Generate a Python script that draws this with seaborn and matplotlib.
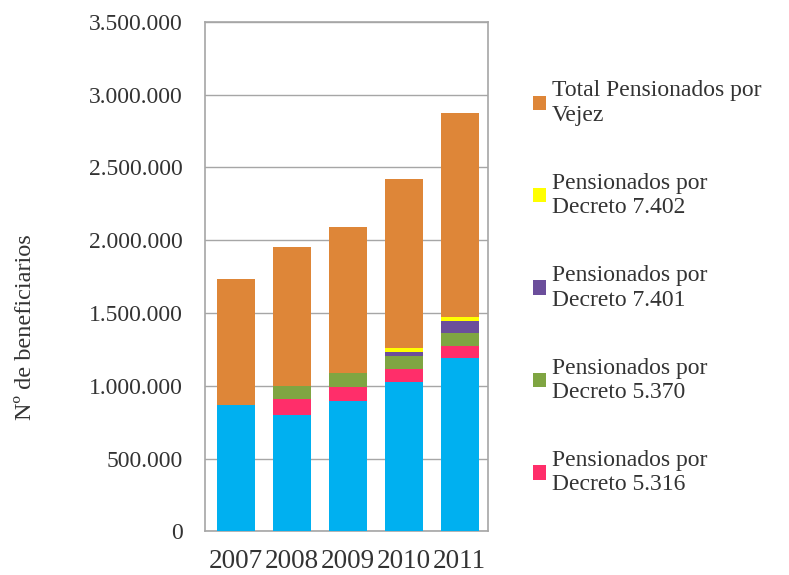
import pandas as pd
import matplotlib.pyplot as plt
import seaborn as sns
from matplotlib.patches import Patch
from matplotlib.ticker import FuncFormatter

years = ['2007', '2008', '2009', '2010', '2011']
base = [870000, 800000, 893000, 1025000, 1188000]
decreto_5316 = [0, 108000, 95000, 88000, 88000]
decreto_5370 = [0, 92000, 100000, 88000, 88000]
decreto_7401 = [0, 0, 0, 32000, 82000]
decreto_7402 = [0, 0, 0, 25000, 27000]
vejez = [860000, 950000, 1000000, 1160000, 1400000]

series = [
    ('Pensionados', base, '#00B0F0'),
    ('Pensionados por\nDecreto 5.316', decreto_5316, '#FF2E6A'),
    ('Pensionados por\nDecreto 5.370', decreto_5370, '#7FA542'),
    ('Pensionados por\nDecreto 7.401', decreto_7401, '#6B4E9B'),
    ('Pensionados por\nDecreto 7.402', decreto_7402, '#FFFF00'),
    ('Total Pensionados por\nVejez', vejez, '#DE8638'),
]

df = pd.DataFrame({name: vals for name, vals, _ in series}, index=years)
cum = df.cumsum(axis=1)

sns.set_theme(style='white')
plt.rcParams['font.family'] = ['Liberation Serif', 'DejaVu Serif']

fig = plt.figure(figsize=(7.89, 5.75), dpi=100)
ax = fig.add_axes([0.26, 0.076, 0.358, 0.886])

# stacked bars: draw cumulative totals from the top layer down
for name, _, color in reversed(series):
    sns.barplot(x=years, y=cum[name].values, color=color, width=0.68,
                saturation=1, linewidth=0, ax=ax, zorder=3)

ax.set_ylim(0, 3500000)
ax.set_xlim(-0.55, 4.5)
ax.set_yticks(range(0, 3500001, 500000))
ax.yaxis.set_major_formatter(FuncFormatter(lambda v, p: f'{int(v):,}'.replace(',', '.')))
ax.grid(axis='y', color='#A6A6A6', linewidth=1, zorder=0)
ax.set_axisbelow(True)
for s in ax.spines.values():
    s.set_color('#A6A6A6')
    s.set_linewidth(1.2)
ax.tick_params(axis='y', labelsize=17, pad=16, colors='#333333', length=0)
ax.tick_params(axis='x', labelsize=19.5, pad=13, colors='#333333', length=0)
ax.set_xlabel('')
ax.set_ylabel('Nº de beneficiarios', fontsize=17.5, color='#333333')
ax.yaxis.set_label_coords(-0.6, 0.40)

handles = [Patch(facecolor=c, edgecolor='none', label=n) for n, _, c in reversed(series[1:])]
fig.legend(handles=handles, loc='upper left', bbox_to_anchor=(0.649, 0.897),
           frameon=False, fontsize=17, labelspacing=2.0, handlelength=0.55,
           handleheight=0.55, handletextpad=0.25, labelcolor='#333333')

fig.savefig('out.png', dpi=100)
